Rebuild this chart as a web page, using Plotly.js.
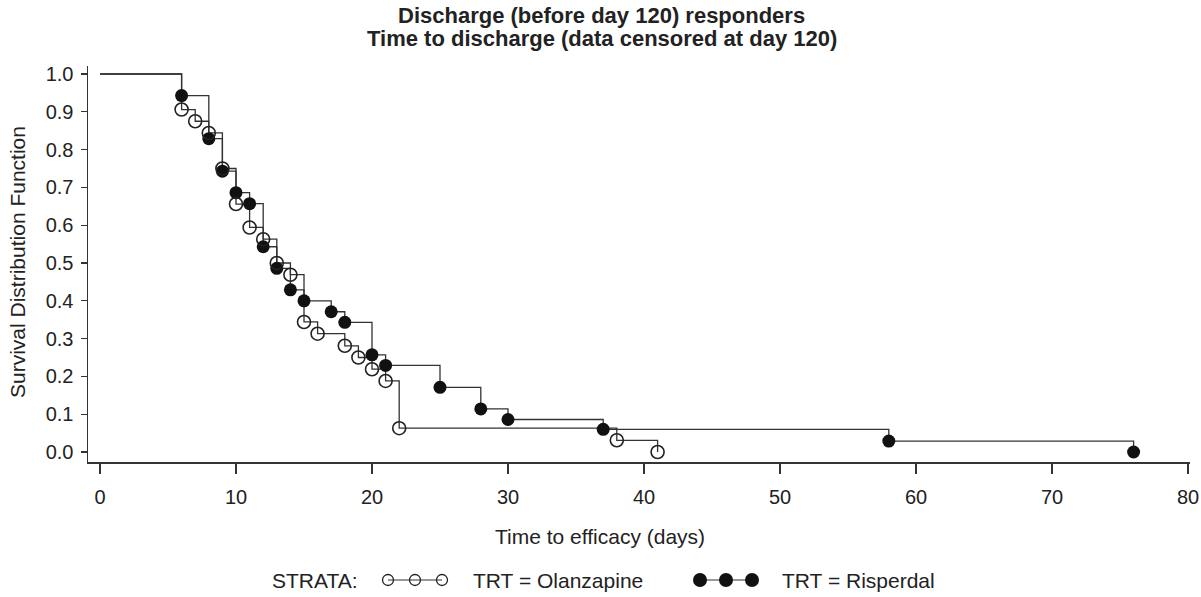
<!DOCTYPE html>
<html>
<head>
<meta charset="utf-8">
<script src="https://cdn.plot.ly/plotly-3.0.1.min.js"></script>
<style>html,body{margin:0;padding:0;background:#fff;}#chart{width:1201px;height:597px;}</style>
</head>
<body>
<div id="chart"></div>
<script>
// Olanzapine (open circles): event times (days) and survival estimates
const olzTime = [0, 6, 7, 8, 9, 10, 11, 12, 13, 14, 15, 16, 18, 19, 20, 21, 22, 38, 41];
const olzSurv = [1.0, 0.906, 0.875, 0.844, 0.75, 0.656, 0.594, 0.563, 0.5, 0.469, 0.344, 0.313, 0.281, 0.25, 0.219, 0.188, 0.063, 0.031, 0.0];
// Risperdal (filled circles)
const rspTime = [0, 6, 8, 9, 10, 11, 12, 13, 14, 15, 17, 18, 20, 21, 25, 28, 30, 37, 58, 76];
const rspSurv = [1.0, 0.943, 0.829, 0.743, 0.686, 0.657, 0.543, 0.486, 0.429, 0.4, 0.371, 0.343, 0.257, 0.229, 0.171, 0.114, 0.086, 0.06, 0.029, 0.0];

const xTicks = [0, 10, 20, 30, 40, 50, 60, 70, 80];
const yTicks = [0.0, 0.1, 0.2, 0.3, 0.4, 0.5, 0.6, 0.7, 0.8, 0.9, 1.0];

const titleLines = ['Discharge (before day 120) responders', 'Time to discharge (data censored at day 120)'];
const xTitle = 'Time to efficacy (days)';
const yTitle = 'Survival Distribution Function';
const legendLabel = 'STRATA:';
const legendNames = ['TRT = Olanzapine', 'TRT = Risperdal'];

const FONT = '"Liberation Sans", Arial, Helvetica, sans-serif';
const INK = '#222';
const LINE = '#333';
const FS = 20;

const W = 1201, H = 597;
const M = {l: 88, r: 11, t: 66, b: 135};
const plotW = W - M.l - M.r, plotH = H - M.t - M.b;
const px2x = p => (p - M.l) / plotW;
const py2y = p => (H - M.b - p) / plotH;

const traces = [
  {x: rspTime, y: rspSurv, mode: 'lines', line: {shape: 'hv', color: LINE, width: 1.3}, hoverinfo: 'skip', showlegend: false},
  {x: olzTime, y: olzSurv, mode: 'lines', line: {shape: 'hv', color: LINE, width: 1.3}, hoverinfo: 'skip', showlegend: false},
  {x: rspTime.slice(1), y: rspSurv.slice(1), mode: 'markers', name: legendNames[1],
   marker: {symbol: 'circle', size: 13, color: '#111', line: {width: 0}}, showlegend: false},
  {x: olzTime.slice(1), y: olzSurv.slice(1), mode: 'markers', name: legendNames[0],
   marker: {symbol: 'circle-open', size: 13, color: INK, line: {width: 1.6, color: INK}}, showlegend: false}
];

// custom legend (decorative glyphs in paper coords)
const shapes = [];
const legY = py2y(580);
function legGlyph(xs, d, filled) {
  shapes.push({type: 'line', xref: 'paper', yref: 'paper', x0: px2x(xs[0]), x1: px2x(xs[xs.length - 1]), y0: legY, y1: legY,
    line: {color: LINE, width: 1.2}});
  xs.forEach(cx => {
    shapes.push({type: 'circle', xref: 'paper', yref: 'paper', xsizemode: 'pixel', ysizemode: 'pixel',
      xanchor: px2x(cx), yanchor: legY, x0: -d / 2, x1: d / 2, y0: -d / 2, y1: d / 2,
      fillcolor: filled ? '#111' : 'rgba(0,0,0,0)', line: {color: filled ? '#111' : INK, width: filled ? 0 : 1.3}});
  });
}
legGlyph([388, 415, 442], 11, false);
legGlyph([700, 726, 752], 14, true);

const txt = (text, px, py, anchor, extra) => Object.assign({text: text, xref: 'paper', yref: 'paper',
  x: px2x(px), y: py2y(py), xanchor: anchor, yanchor: 'middle', showarrow: false,
  font: {family: FONT, size: FS, color: INK}}, extra || {});

const annotations = [
  txt('<b>' + titleLines[0] + '</b>', 601, 16, 'center', {font: {family: FONT, size: 22, color: INK}}),
  txt('<b>' + titleLines[1] + '</b>', 602, 38, 'center', {font: {family: FONT, size: 22, color: INK}}),
  txt(xTitle, 600, 536, 'center', {font: {family: FONT, size: 21, color: INK}}),
  txt(yTitle, 17, 262, 'center', {textangle: -90, font: {family: FONT, size: 21, color: INK}}),
  txt(legendLabel, 270, 580, 'left', {font: {family: FONT, size: 21, color: INK}}),
  txt(legendNames[0], 471, 580, 'left', {font: {family: FONT, size: 21, color: INK}}),
  txt(legendNames[1], 780, 580, 'left', {font: {family: FONT, size: 21, color: INK}})
];

const layout = {
  width: W, height: H, margin: M,
  paper_bgcolor: '#fff', plot_bgcolor: '#fff',
  font: {family: FONT, size: FS, color: INK},
  xaxis: {range: [-12 / 13.6, 80 + 2 / 13.6], tickvals: xTicks, ticktext: xTicks.map(String),
          showgrid: false, zeroline: false, showline: true, linecolor: LINE, linewidth: 1.5,
          ticks: 'outside', ticklen: 10, tickwidth: 1.3, tickcolor: LINE, ticklabelstandoff: 6,
          tickfont: {family: FONT, size: FS, color: INK}, fixedrange: true},
  yaxis: {range: [-10 / 378, 1 + 8 / 378], tickvals: yTicks, ticktext: yTicks.map(v => v.toFixed(1)),
          showgrid: false, zeroline: false, showline: true, linecolor: LINE, linewidth: 1.5,
          ticks: 'outside', ticklen: 6, tickwidth: 1.3, tickcolor: LINE, ticklabelstandoff: 3,
          tickfont: {family: FONT, size: FS, color: INK}, fixedrange: true},
  shapes: shapes, annotations: annotations, showlegend: false
};

Plotly.newPlot('chart', traces, layout, {displayModeBar: false, staticPlot: true});
</script>
</body>
</html>
